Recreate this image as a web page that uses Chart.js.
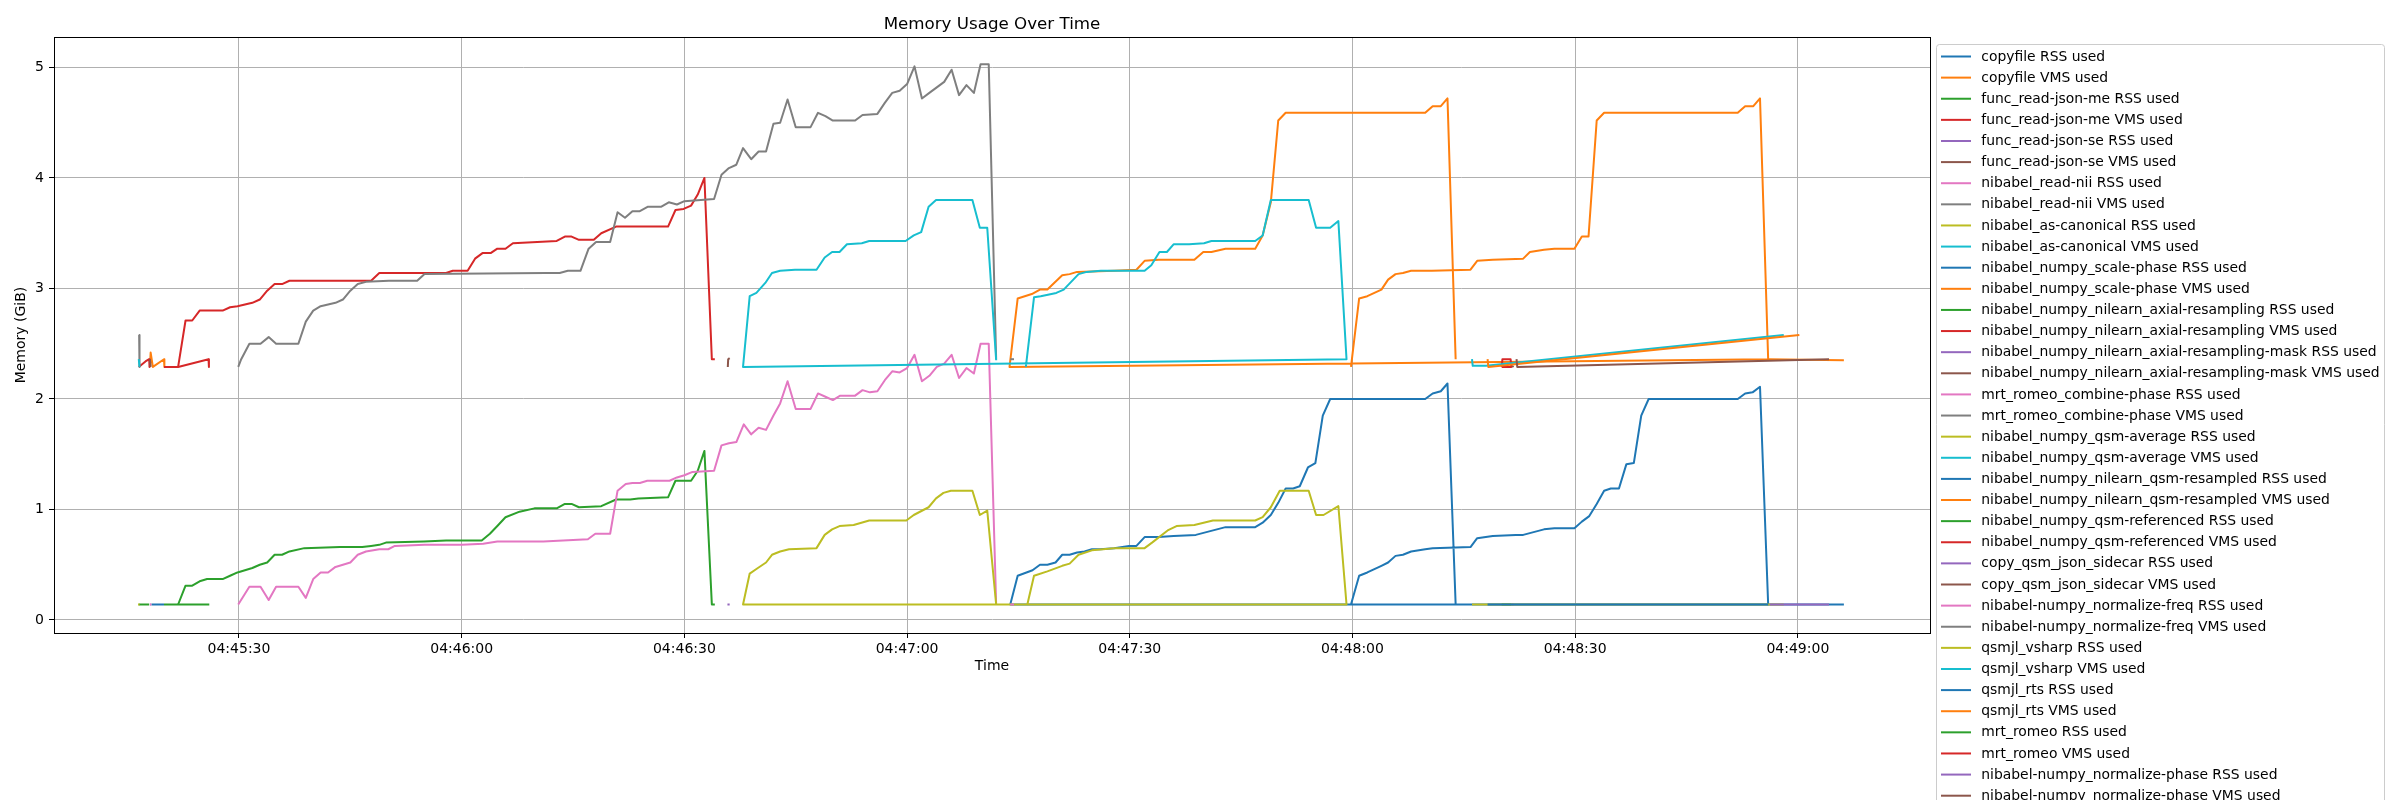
<!DOCTYPE html>
<html>
<head>
<meta charset="utf-8">
<script src="https://cdn.jsdelivr.net/npm/chart.js@4.4.1/dist/chart.umd.min.js"></script>
<style>
  html, body { margin: 0; padding: 0; background: #fff; overflow: hidden; }
  canvas { display: block; }
</style>
</head>
<body>
<canvas id="chart" width="2400" height="800"></canvas>
<script>
// ------------------------
// DATA  (x = seconds after 04:45:00, y = GiB)
// ------------------------
const timeTickSeconds = [30, 60, 90, 120, 150, 180, 210, 240];
const timeTickLabels = ["04:45:30", "04:46:00", "04:46:30", "04:47:00", "04:47:30", "04:48:00", "04:48:30", "04:49:00"];
const memTicks = [0, 1, 2, 3, 4, 5];

const seriesNames = [
  "copyfile RSS used", "copyfile VMS used",
  "func_read-json-me RSS used", "func_read-json-me VMS used",
  "func_read-json-se RSS used", "func_read-json-se VMS used",
  "nibabel_read-nii RSS used", "nibabel_read-nii VMS used",
  "nibabel_as-canonical RSS used", "nibabel_as-canonical VMS used",
  "nibabel_numpy_scale-phase RSS used", "nibabel_numpy_scale-phase VMS used",
  "nibabel_numpy_nilearn_axial-resampling RSS used", "nibabel_numpy_nilearn_axial-resampling VMS used",
  "nibabel_numpy_nilearn_axial-resampling-mask RSS used", "nibabel_numpy_nilearn_axial-resampling-mask VMS used",
  "mrt_romeo_combine-phase RSS used", "mrt_romeo_combine-phase VMS used",
  "nibabel_numpy_qsm-average RSS used", "nibabel_numpy_qsm-average VMS used",
  "nibabel_numpy_nilearn_qsm-resampled RSS used", "nibabel_numpy_nilearn_qsm-resampled VMS used",
  "nibabel_numpy_qsm-referenced RSS used", "nibabel_numpy_qsm-referenced VMS used",
  "copy_qsm_json_sidecar RSS used", "copy_qsm_json_sidecar VMS used",
  "nibabel-numpy_normalize-freq RSS used", "nibabel-numpy_normalize-freq VMS used",
  "qsmjl_vsharp RSS used", "qsmjl_vsharp VMS used",
  "qsmjl_rts RSS used", "qsmjl_rts VMS used",
  "mrt_romeo RSS used", "mrt_romeo VMS used",
  "nibabel-numpy_normalize-phase RSS used", "nibabel-numpy_normalize-phase VMS used"
];

const copyfileRss = [[18.2,0.14],[19.9,0.14]];
const copyfileVms = [[18.0,2.29],[18.1,2.42],[18.4,2.29],[19.9,2.36],[19.95,2.29]];
const readJsonMeRss = [[16.5,0.14],[17.9,0.14]];
const readJsonMeVms = [[16.5,2.29],[17.4,2.34],[17.9,2.36],[17.95,2.29]];
const readJsonSeRss = [[18.0,0.14],[18.1,0.14]];
const readJsonSeVms = [[18.0,2.36],[18.1,2.29]];
const readNiiRss = [[18.0,0.14],[18.2,0.14]];
const readNiiVms = [[16.55,2.58],[16.6,2.29]];
const asCanonicalRss = [[16.4,0.14],[16.6,0.14]];
const asCanonicalVms = [[16.5,2.36],[16.6,2.29]];

const scalePhaseRss = [
  [179.8,0.14],[180.9,0.40],[182.0,0.43],[183.9,0.49],[184.8,0.52],[185.8,0.58],[186.8,0.59],[187.9,0.62],
  [189.8,0.64],[190.8,0.65],[195.9,0.66],[196.8,0.74],[198.9,0.76],[202.0,0.77],[203.0,0.77],[205.8,0.82],
  [207.2,0.83],[209.9,0.83],[210.9,0.89],[211.9,0.94],[212.9,1.05],[213.9,1.17],[214.8,1.19],[215.9,1.19],
  [216.9,1.41],[217.9,1.42],[218.9,1.85],[219.9,2.00],[231.9,2.00],[232.9,2.05],[233.9,2.06],[234.9,2.11],
  [236.0,0.14],
  [133.9,0.14],[134.9,0.40],[136.9,0.45],[137.9,0.50],[138.9,0.50],[140.0,0.52],[140.9,0.59],[141.9,0.59],
  [142.9,0.61],[143.9,0.62],[144.9,0.64],[146.0,0.64],[147.9,0.65],[149.9,0.67],[150.9,0.67],[152.0,0.75],
  [153.9,0.75],[155.9,0.76],[158.9,0.77],[162.9,0.84],[166.9,0.84],[167.9,0.88],[169.0,0.95],[170.0,1.06],
  [171.0,1.19],[172.0,1.19],[172.9,1.21],[174.0,1.38],[175.0,1.42],[176.0,1.85],[177.0,2.00],[189.8,2.00],
  [190.8,2.05],[191.9,2.07],[192.8,2.14],[193.9,0.14]
];
const scalePhaseVms = [
  [179.8,2.29],[180.9,2.91],[182.0,2.93],[183.9,2.99],[184.8,3.08],[185.8,3.13],[186.8,3.14],[187.9,3.16],
  [190.7,3.16],[195.9,3.17],[196.8,3.25],[198.9,3.26],[203.0,3.27],[203.9,3.33],[205.8,3.35],[207.2,3.36],
  [209.9,3.36],[210.9,3.47],[211.8,3.47],[212.9,4.52],[213.9,4.59],[231.9,4.59],[232.9,4.65],[234.0,4.65],
  [234.9,4.72],[236.0,2.36],
  [133.8,2.29],[134.9,2.91],[136.8,2.95],[137.9,2.99],[138.9,2.99],[140.9,3.12],[141.9,3.13],[142.9,3.15],
  [147.9,3.16],[150.9,3.17],[152.0,3.25],[153.9,3.26],[158.7,3.26],[159.9,3.33],[161.0,3.33],[162.9,3.36],
  [166.9,3.36],[167.9,3.48],[169.0,3.78],[170.0,4.52],[171.0,4.59],[189.8,4.59],[190.8,4.65],[191.9,4.65],
  [192.8,4.72],[193.9,2.36]
];

const axialResamplingRss = [
  [21.8,0.14],[22.8,0.31],[23.7,0.31],[24.7,0.35],[25.7,0.37],[27.8,0.37],[28.8,0.40],[29.8,0.43],
  [31.8,0.47],[32.8,0.50],[33.8,0.52],[34.8,0.59],[35.8,0.59],[36.8,0.62],[38.8,0.65],[43.6,0.66],
  [46.6,0.66],[47.8,0.67],[48.9,0.68],[49.8,0.70],[54.9,0.71],[57.9,0.72],[62.7,0.72],[63.8,0.78],
  [64.8,0.85],[65.9,0.93],[67.8,0.98],[69.8,1.01],[72.8,1.01],[73.9,1.05],[74.8,1.05],[75.8,1.02],
  [78.8,1.03],[80.8,1.09],[82.7,1.09],[83.8,1.10],[87.8,1.11],[88.8,1.26],[90.9,1.26],[91.8,1.35],
  [92.7,1.53],[93.7,0.14],[94.1,0.14]
];
const axialResamplingVms = [
  [21.8,2.29],[22.8,2.71],[23.7,2.71],[24.7,2.80],[25.9,2.80],[27.8,2.80],[28.8,2.83],[29.8,2.84],
  [31.8,2.87],[32.8,2.90],[33.8,2.98],[34.8,3.04],[35.8,3.04],[36.8,3.07],[38.8,3.07],[47.8,3.07],
  [48.9,3.14],[57.9,3.14],[58.8,3.16],[60.8,3.16],[61.8,3.27],[62.8,3.32],[63.9,3.32],[64.8,3.36],
  [65.9,3.36],[66.9,3.41],[72.8,3.43],[73.9,3.47],[74.8,3.47],[75.8,3.44],[77.8,3.44],[78.8,3.50],
  [80.8,3.56],[87.8,3.56],[88.8,3.71],[89.9,3.72],[90.9,3.75],[91.8,3.85],[92.7,4.00],[93.7,2.36],
  [94.1,2.36]
];
const axialMaskRss = [[95.8,0.14],[96.1,0.14]];
const axialMaskVms = [[95.85,2.29],[95.9,2.36],[96.1,2.37]];

const combinePhaseRss = [
  [29.9,0.14],[31.4,0.30],[32.9,0.30],[34.0,0.18],[35.0,0.30],[38.0,0.30],[39.0,0.20],[40.0,0.37],
  [41.0,0.43],[42.0,0.43],[43.0,0.48],[44.0,0.50],[45.0,0.52],[46.0,0.59],[47.1,0.62],[48.9,0.64],
  [50.1,0.64],[51.0,0.67],[55.0,0.68],[60.0,0.68],[62.9,0.69],[64.8,0.71],[71.0,0.71],[77.0,0.73],
  [78.0,0.78],[80.0,0.78],[81.0,1.17],[82.1,1.23],[83.0,1.24],[84.0,1.24],[85.0,1.26],[88.0,1.26],
  [89.0,1.29],[90.0,1.31],[91.1,1.34],[94.0,1.35],[95.0,1.58],[96.0,1.60],[97.0,1.61],[98.0,1.77],
  [99.0,1.68],[100.0,1.74],[101.0,1.72],[102.0,1.85],[102.9,1.96],[103.9,2.16],[105.0,1.91],[107.0,1.91],
  [108.0,2.05],[109.0,2.02],[110.0,1.99],[111.0,2.03],[113.0,2.03],[114.0,2.08],[115.0,2.06],[116.0,2.07],
  [117.0,2.17],[118.0,2.25],[119.0,2.24],[120.0,2.28],[121.0,2.40],[122.0,2.16],[123.0,2.21],[124.0,2.29],
  [125.0,2.32],[126.0,2.40],[127.0,2.19],[128.0,2.28],[129.0,2.23],[129.9,2.50],[131.0,2.50],[132.0,0.14]
];
const combinePhaseVms = [
  [29.9,2.29],[30.3,2.36],[31.4,2.50],[32.9,2.50],[34.0,2.56],[35.0,2.50],[38.0,2.50],[39.0,2.70],
  [40.0,2.80],[41.0,2.84],[43.0,2.87],[44.0,2.90],[45.0,2.98],[46.0,3.04],[47.1,3.06],[50.2,3.07],
  [54.0,3.07],[55.0,3.13],[71.3,3.14],[73.2,3.14],[74.3,3.16],[76.0,3.16],[77.1,3.36],[78.1,3.42],
  [80.0,3.42],[81.0,3.69],[82.0,3.64],[83.0,3.70],[84.0,3.70],[85.1,3.74],[86.9,3.74],[87.9,3.78],
  [89.0,3.76],[90.0,3.79],[94.0,3.81],[95.0,4.03],[96.0,4.09],[97.0,4.12],[97.9,4.27],[99.0,4.17],
  [100.0,4.24],[101.0,4.24],[102.0,4.49],[102.9,4.50],[103.9,4.71],[105.0,4.46],[107.0,4.46],[108.0,4.59],
  [109.0,4.56],[110.0,4.52],[113.0,4.52],[114.0,4.57],[116.0,4.58],[117.0,4.68],[118.0,4.77],[119.0,4.79],
  [120.0,4.85],[121.0,5.01],[122.0,4.72],[123.0,4.77],[124.0,4.82],[125.0,4.87],[126.0,4.98],[127.0,4.75],
  [128.0,4.84],[129.0,4.77],[129.9,5.03],[131.0,5.03],[132.0,2.36]
];

const qsmAverageRss = [
  [136.2,0.14],[137.1,0.40],[138.9,0.44],[140.9,0.49],[141.9,0.51],[143.1,0.59],[144.9,0.63],[147.9,0.65],
  [152.0,0.65],[153.0,0.70],[155.1,0.81],[156.3,0.85],[158.7,0.86],[161.2,0.90],[166.9,0.90],[167.9,0.93],
  [169.0,1.02],[170.2,1.17],[174.1,1.17],[175.1,0.95],[176.1,0.95],[178.1,1.03],[179.2,0.14],
  [97.9,0.14],[98.8,0.42],[99.9,0.47],[101.0,0.52],[101.8,0.59],[102.9,0.62],[104.1,0.64],[107.8,0.65],
  [108.9,0.77],[109.9,0.82],[110.9,0.85],[112.8,0.86],[114.9,0.90],[119.9,0.90],[120.9,0.95],[122.9,1.02],
  [123.9,1.10],[124.9,1.15],[125.9,1.17],[128.8,1.17],[129.8,0.95],[130.8,0.99],[132.0,0.14]
];
const qsmAverageVms = [
  [136.0,2.29],[137.1,2.92],[138.0,2.93],[140.1,2.96],[141.1,2.99],[142.1,3.06],[143.1,3.13],[144.2,3.15],
  [146.1,3.16],[152.0,3.16],[152.9,3.21],[154.0,3.33],[155.0,3.33],[155.9,3.40],[158.0,3.40],[160.0,3.41],
  [161.0,3.43],[166.9,3.43],[167.9,3.48],[169.0,3.80],[174.1,3.80],[175.1,3.55],[177.0,3.55],[178.1,3.61],
  [179.2,2.36],
  [97.9,2.29],[98.8,2.93],[99.7,2.96],[100.9,3.05],[101.8,3.14],[102.9,3.16],[104.9,3.17],[107.8,3.17],
  [108.9,3.28],[109.9,3.33],[110.9,3.33],[111.9,3.40],[113.9,3.41],[114.9,3.43],[119.8,3.43],[120.9,3.48],
  [121.9,3.51],[122.9,3.74],[123.9,3.80],[128.8,3.80],[129.8,3.55],[130.8,3.55],[132.0,2.35]
];

const qsmResampledRss = [[236.0,0.14],[246.2,0.14]];
const qsmResampledVms = [[236.0,2.36],[246.2,2.35]];
const qsmReferencedRss = [[200.1,0.14],[201.4,0.14]];
const qsmReferencedVms = [[200.1,2.29],[200.2,2.36],[201.3,2.36],[201.4,2.29],[200.1,2.29]];
const sidecarRss = [[201.5,0.14],[201.7,0.14]];
const sidecarVms = [[201.5,2.29],[201.7,2.30]];
const normalizeFreqRss = [[133.9,0.14],[134.4,0.14]];
const normalizeFreqVms = [[133.9,2.36],[134.4,2.36]];
const vsharpRss = [[196.1,0.14],[198.0,0.14],[238.1,0.14]];
const vsharpVms = [[196.1,2.36],[196.2,2.30],[198.0,2.30],[238.1,2.58]];
const rtsRss = [[198.2,0.14],[236.0,0.14]];
const rtsVms = [[198.2,2.36],[198.3,2.29],[240.2,2.58]];
const romeoRss = [[19.9,0.14],[26.0,0.14]];
const romeoVms = [[19.9,2.29],[21.8,2.29],[25.9,2.36],[25.95,2.29]];
const normalizePhaseRss = [[236.2,0.14],[244.2,0.14]];
const normalizePhaseVms = [[202.1,2.36],[202.2,2.29],[244.2,2.36]];

const seriesPoints = [
  copyfileRss, copyfileVms, readJsonMeRss, readJsonMeVms, readJsonSeRss, readJsonSeVms,
  readNiiRss, readNiiVms, asCanonicalRss, asCanonicalVms, scalePhaseRss, scalePhaseVms,
  axialResamplingRss, axialResamplingVms, axialMaskRss, axialMaskVms, combinePhaseRss, combinePhaseVms,
  qsmAverageRss, qsmAverageVms, qsmResampledRss, qsmResampledVms, qsmReferencedRss, qsmReferencedVms,
  sidecarRss, sidecarVms, normalizeFreqRss, normalizeFreqVms, vsharpRss, vsharpVms,
  rtsRss, rtsVms, romeoRss, romeoVms, normalizePhaseRss, normalizePhaseVms
];

// matplotlib tab10 cycle
const TAB10 = ['#1f77b4','#ff7f0e','#2ca02c','#d62728','#9467bd','#8c564b','#e377c2','#7f7f7f','#bcbd22','#17becf'];
const FONT = '"DejaVu Sans"';

// ------------------------
// DATASETS
// ------------------------
const datasets = seriesNames.map((name, i) => ({
  label: name,
  data: seriesPoints[i].map(([x, y]) => ({ x, y })),
  borderColor: TAB10[i % 10],
  backgroundColor: TAB10[i % 10],
  borderWidth: 2,
  borderJoinStyle: 'round',
  pointRadius: 0,
  fill: false,
  tension: 0,
  order: -i   // later series on top, like matplotlib
}));

// ------------------------
// FRAME, TITLES, LEGEND
// ------------------------
const framePlugin = {
  id: 'frame',
  afterDraw(chart) {
    const { ctx, chartArea: a } = chart;
    ctx.save();
    ctx.strokeStyle = '#000';
    ctx.lineWidth = 1;
    ctx.strokeRect(a.left + 0.5, a.top + 0.5, a.right - a.left, a.bottom - a.top);

    ctx.fillStyle = '#000';
    ctx.textAlign = 'center';
    ctx.font = '16.7px ' + FONT;
    ctx.textBaseline = 'alphabetic';
    ctx.fillText('Memory Usage Over Time', (a.left + a.right) / 2, a.top - 8);

    ctx.font = '14px ' + FONT;
    ctx.textBaseline = 'middle';
    ctx.fillText('Time', (a.left + a.right) / 2, 666.5);

    ctx.save();
    ctx.translate(21, (a.top + a.bottom) / 2);
    ctx.rotate(-Math.PI / 2);
    ctx.fillText('Memory (GiB)', 0, 0);
    ctx.restore();

    // legend box
    const lx = 1936.5, ly = 44.5, lw = 448, lh = 800;
    ctx.beginPath();
    ctx.roundRect(lx, ly, lw, lh, 3);
    ctx.fillStyle = 'rgba(255,255,255,0.8)';
    ctx.fill();
    ctx.strokeStyle = '#cccccc';
    ctx.lineWidth = 1;
    ctx.stroke();

    ctx.textAlign = 'left';
    ctx.font = '13.9px ' + FONT;
    seriesNames.forEach((name, i) => {
      const y = 56.5 + i * 21.12;
      ctx.strokeStyle = TAB10[i % 10];
      ctx.lineWidth = 2;
      ctx.beginPath();
      ctx.moveTo(1941, y);
      ctx.lineTo(1971, y);
      ctx.stroke();
      ctx.fillStyle = '#000';
      ctx.fillText(name, 1981.3, y + 0.5);
    });
    ctx.restore();
  }
};

// ------------------------
// CHART
// ------------------------
Chart.defaults.font.family = 'DejaVu Sans';

new Chart(document.getElementById('chart'), {
  type: 'line',
  data: { datasets },
  options: {
    responsive: false,
    animation: false,
    devicePixelRatio: 1,
    layout: { padding: { left: 0, right: 470, top: 37, bottom: 0 } },
    plugins: { legend: { display: false }, tooltip: { enabled: false }, title: { display: false } },
    scales: {
      x: {
        type: 'linear',
        min: 5.08,
        max: 257.8,
        afterFit: s => { s.height = 167; },
        afterBuildTicks: s => { s.ticks = timeTickSeconds.map(v => ({ value: v })); },
        grid: { color: '#b0b0b0', lineWidth: 1, tickLength: 5, tickColor: '#000', tickWidth: 1 },
        border: { color: '#000', width: 1 },
        ticks: {
          color: '#000', font: { size: 14 }, padding: 3, maxRotation: 0, autoSkip: false,
          callback: v => timeTickLabels[timeTickSeconds.indexOf(v)]
        }
      },
      y: {
        type: 'linear',
        min: -0.118,
        max: 5.276,
        afterFit: s => { s.width = 54; },
        afterBuildTicks: s => { s.ticks = memTicks.map(v => ({ value: v })); },
        grid: { color: '#b0b0b0', lineWidth: 1, tickLength: 5, tickColor: '#000', tickWidth: 1 },
        border: { color: '#000', width: 1 },
        ticks: { color: '#000', font: { size: 14 }, padding: 5, callback: v => String(v) }
      }
    }
  },
  plugins: [framePlugin]
});
</script>
</body>
</html>
